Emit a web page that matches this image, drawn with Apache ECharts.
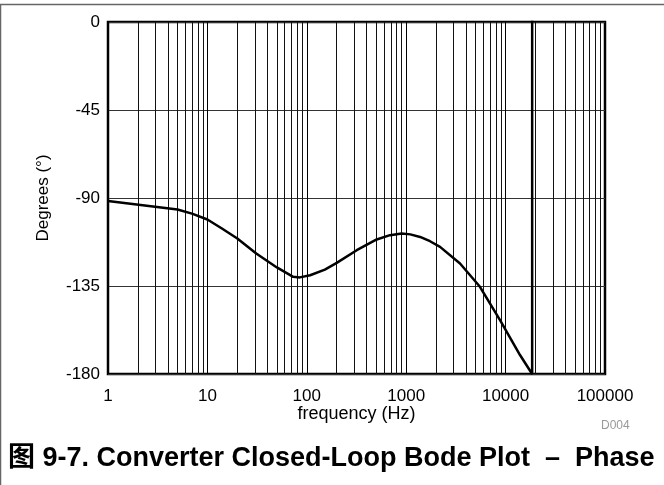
<!DOCTYPE html>
<html>
<head>
<meta charset="utf-8">
<script src="https://cdn.jsdelivr.net/npm/echarts@6/dist/echarts.min.js"></script>
<style>
  html, body { margin: 0; padding: 0; background: #fff; }
  #chart { width: 664px; height: 485px; }
</style>
</head>
<body>
<div id="chart"></div>
<script>
// Closed-loop phase response of the converter
const frequencyHz = [1, 5, 7, 10, 14, 20, 31, 50, 73, 85, 108, 152, 200, 318, 505, 687, 901, 1100, 1380, 1735, 2190, 3480, 5520, 8790, 13960, 18500, 18500];
const phaseDeg    = [-91.5, -95.9, -98, -101, -105.6, -110.7, -118.4, -125.5, -130.3, -130.6, -129.5, -126.6, -123.2, -116.7, -111.2, -109, -108.2, -108.6, -109.9, -112.1, -115, -123.5, -135.4, -152.5, -170.3, -180, 180];

// Axis ticks
const phaseTicks = [-180, -135, -90, -45, 0];
const minorGridHz = [2, 3, 4, 5, 6, 7, 8, 9,
                     20, 30, 40, 50, 60, 70, 80, 90,
                     200, 300, 400, 500, 600, 700, 800, 900,
                     2000, 3000, 4000, 5000, 6000, 7000, 8000, 9000,
                     20000, 30000, 40000, 50000, 60000, 70000, 80000, 90000];

const FONT = '"Liberation Sans", Arial, sans-serif';

const chart = echarts.init(document.getElementById('chart'), null, { renderer: 'canvas' });

chart.setOption({
  backgroundColor: '#ffffff',
  animation: false,
  grid: {
    left: 108, top: 22, width: 497, height: 352,
    show: true, borderColor: '#000', borderWidth: 2.5, backgroundColor: 'transparent'
  },
  xAxis: {
    type: 'log', logBase: 10, min: 1, max: 100000,
    name: 'frequency (Hz)', nameLocation: 'middle', nameGap: 31, nameMoveOverlap: false,
    nameTextStyle: { fontFamily: FONT, fontSize: 18, color: '#000' },
    axisLine: { show: false }, axisTick: { show: false },
    axisLabel: {
      fontFamily: FONT, fontSize: 17, color: '#000', margin: 14,
      formatter: v => String(Math.round(v))
    },
    splitLine: { show: true, lineStyle: { color: '#000', width: 1 } },
    minorSplitLine: { show: false }
  },
  yAxis: {
    type: 'value', min: phaseTicks[0], max: phaseTicks[phaseTicks.length - 1], interval: 45,
    name: 'Degrees (°)', nameLocation: 'middle', nameGap: 56, nameMoveOverlap: false,
    nameTextStyle: { fontFamily: FONT, fontSize: 17, color: '#000' },
    axisLine: { show: false }, axisTick: { show: false },
    axisLabel: { fontFamily: FONT, fontSize: 17, color: '#000', margin: 8 },
    splitLine: { show: true, lineStyle: { color: '#333', width: 1 } }
  },
  series: [{
    type: 'line',
    data: frequencyHz.map((f, i) => [f, phaseDeg[i]]),
    showSymbol: false,
    clip: true,
    lineStyle: { color: '#000', width: 2.5 },
    z: 5,
    markLine: {
      silent: true,
      symbol: ['none', 'none'],
      label: { show: false },
      lineStyle: { color: '#111', width: 1, type: 'solid' },
      data: minorGridHz.map(f => ({ xAxis: f }))
    }
  }],
  graphic: [
    {
      type: 'rect', silent: true,
      shape: { x: 0.5, y: 4.5, width: 700, height: 520 },
      style: { fill: 'none', stroke: '#666', lineWidth: 1.5 }
    },
    {
      type: 'text', left: 601, top: 420, silent: true,
      style: { text: 'D004', font: '12px ' + FONT, fill: '#999' }
    },
    {
      type: 'text', left: 8, top: 445, silent: true,
      style: {
        text: '图 9-7. Converter Closed-Loop Bode Plot  –  Phase',
        font: 'bold 27px "Liberation Sans", "Noto Sans CJK SC", Arial, sans-serif',
        fill: '#000'
      }
    }
  ]
});
</script>
</body>
</html>
